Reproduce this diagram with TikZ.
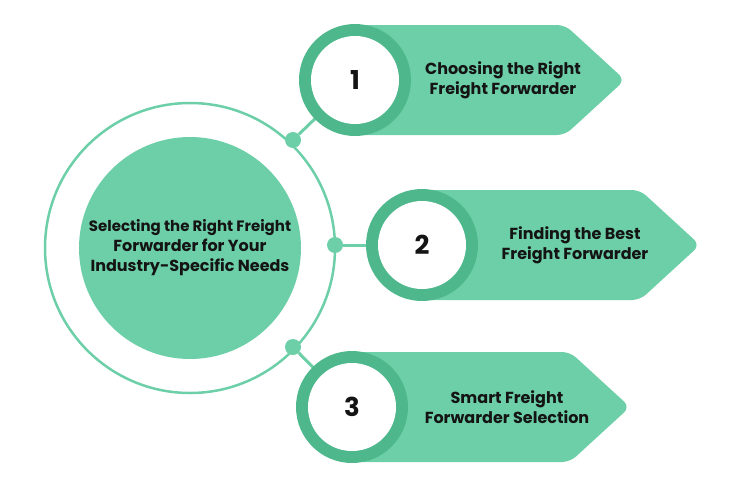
\documentclass[tikz,border=0pt]{standalone}
\usepackage{fontspec}
\setmainfont{Poppins}
\usetikzlibrary{calc}
\definecolor{leaf}{RGB}{108,207,168}
\definecolor{leafdark}{RGB}{78,184,140}
\definecolor{ink}{RGB}{20,20,20}
\tikzset{
    banner/.style={fill=leaf, rounded corners=8pt},
    numring/.style={circle, fill=leafdark, minimum size=112pt, inner sep=0pt},
    numdisc/.style={circle, fill=white, minimum size=88pt, inner sep=0pt, font=\fontsize{26}{28}\selectfont\bfseries, text=ink},
    label/.style={align=center, font=\fontsize{16}{20}\selectfont\bfseries, text=ink},
    joint/.style={circle, fill=leaf, minimum size=16pt, inner sep=0pt},
    link/.style={leaf, line width=3pt}
}
\begin{document}
\begin{tikzpicture}[x=1pt, y=-1pt]
    \useasboundingbox (0,0) rectangle (751,490);
    % Hub
    \draw[leaf, line width=2.5pt] (190,248) circle (145);
    \node (hub) [circle, fill=leaf, minimum size=222pt, inner sep=0pt, label] at (190,248)
        {\fontsize{15}{20}\selectfont Selecting the Right Freight\\Forwarder for Your\\Industry-Specific Needs};

    % Joints on the ring
    \node (j1) [joint] at (293,140) {};
    \node (j2) [joint] at (335,245) {};
    \node (j3) [joint] at (293,347) {};

    % Banners
    \fill[banner] (355,25) -- (565,25) -- (625,80) -- (565,135) -- (355,135) -- cycle;
    \fill[banner] (422,190) -- (640,190) -- (700,245) -- (640,300) -- (422,300) -- cycle;
    \fill[banner] (355,352) -- (570,352) -- (630,407) -- (570,462) -- (355,462) -- cycle;

    % Links
    \draw[link] (j1) -- (355,80);
    \draw[link] (j2) -- (422,245);
    \draw[link] (j3) -- (352,407);

    % Numbers
    \node (r1) [numring] at (355,80) {};
    \node (n1) [numdisc] at (355,80) {1};
    \node (r2) [numring] at (422,245) {};
    \node (n2) [numdisc] at (422,245) {2};
    \node (r3) [numring] at (352,407) {};
    \node (n3) [numdisc] at (352,407) {3};

    % Texts
    \node (t1) [label] at (503,80) {Choosing the Right\\Freight Forwarder};
    \node (t2) [label] at (575,245) {Finding the Best\\Freight Forwarder};
    \node (t3) [label] at (507,407) {Smart Freight\\Forwarder Selection};
\end{tikzpicture}
\end{document}
